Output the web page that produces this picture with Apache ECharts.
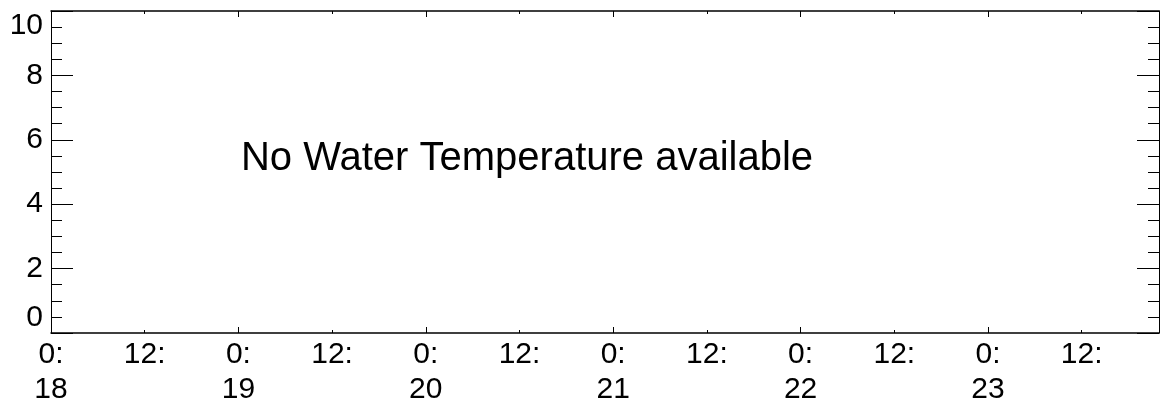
<!DOCTYPE html>
<html>
<head>
<meta charset="utf-8">
<script src="https://cdn.jsdelivr.net/npm/echarts@6/dist/echarts.min.js"></script>
<style>
html,body{margin:0;padding:0;background:#fff;}
#chart{width:1165px;height:408px;}
</style>
</head>
<body>
<div id="chart"></div>
<script>
// Data (no water temperature values available)
var startDay = 18;              // first day label
var hoursSpan = 141.9;          // x range in hours from day 18 00:00
var yTicks = [0, 2, 4, 6, 8, 10];
var temperatureValues = [];     // no data available
var message = 'No Water Temperature available';

var FONT = '"Liberation Sans", Arial, Helvetica, sans-serif';
var chart = echarts.init(document.getElementById('chart'));

function xLabel(v) {
  var h = Math.round(v) % 24;
  var d = startDay + Math.floor(Math.round(v) / 24);
  return h === 0 ? '0:\n' + d : '12:\n ';
}

function xAxisDef(pos, interval, tickLen, showLabel, showLine) {
  return {
    type: 'value', position: pos, min: 0, max: hoursSpan, interval: interval,
    gridIndex: 0,
    axisLine: {show: showLine, onZero: false, lineStyle: {color: '#000', width: 1.5}},
    axisTick: {show: true, inside: true, length: tickLen, lineStyle: {color: '#000', width: 1}},
    axisLabel: {show: showLabel, formatter: xLabel, color: '#000', fontSize: 30, fontFamily: FONT,
      lineHeight: 35, margin: 4, showMaxLabel: false},
    splitLine: {show: false}
  };
}
function yAxisDef(pos, showLabel) {
  return {
    type: 'value', position: pos, min: yTicks[0], max: yTicks[yTicks.length - 1], interval: 2,
    axisLine: {show: true, onZero: false, lineStyle: {color: '#000', width: 1}},
    axisTick: {show: true, inside: true, length: 22, lineStyle: {color: '#000', width: 1}},
    minorTick: {show: true, splitNumber: 4, length: 11, lineStyle: {color: '#000', width: 1}},
    axisLabel: {show: showLabel, color: '#000', fontSize: 30, fontFamily: FONT, margin: 8,
      verticalAlignMinLabel: 'bottom', verticalAlignMaxLabel: 'top'},
    splitLine: {show: false}, minorSplitLine: {show: false}
  };
}

chart.setOption({
  animation: false,
  backgroundColor: '#fff',
  grid: {left: 51, right: 6, top: 11, bottom: 75, containLabel: false},
  xAxis: [
    xAxisDef('bottom', 12, 3, true, true),
    xAxisDef('bottom', 24, 6, false, false),
    xAxisDef('top', 12, 3, false, true),
    xAxisDef('top', 24, 6, false, false)
  ],
  yAxis: [yAxisDef('left', true), yAxisDef('right', false)],
  series: [{type: 'line', xAxisIndex: 0, yAxisIndex: 0, data: temperatureValues, symbol: 'none'}],
  graphic: [{
    type: 'text', x: 527, y: 159,
    style: {text: message, font: '40px ' + FONT, fill: '#000', align: 'center', verticalAlign: 'middle'}
  }]
});
</script>
</body>
</html>
